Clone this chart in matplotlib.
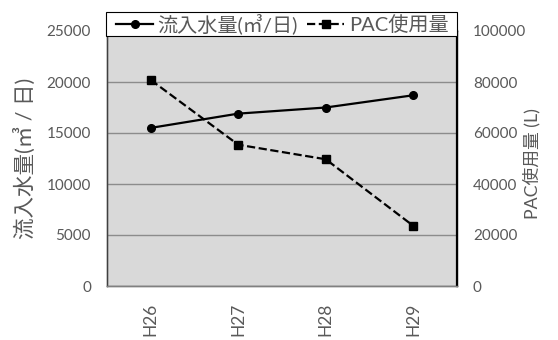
import numpy as np
import matplotlib
matplotlib.use("Agg")
import matplotlib.pyplot as plt
from matplotlib.patches import Rectangle

plt.rcParams["font.family"] = ["Lato", "Noto Sans CJK JP", "DejaVu Sans"]

# -- Data ----------------------------------------------------------------------
years   = ["H26", "H27", "H28", "H29"]
inflow  = [15500, 16900, 17500, 18700]   # m3/day
pac_use = [80800, 55400, 49700, 23600]   # L

TICK_C = "#595959"
W, H = 558, 340

# -- Plot ----------------------------------------------------------------------
fig = plt.figure(figsize=(W / 100, H / 100), dpi=100)
ax = fig.add_axes([107 / W, 1 - 286 / H, 350 / W, 255 / H])
ax2 = ax.twinx()

x = np.arange(len(years))
ax.set_facecolor("#d9d9d9")
ax.set_axisbelow(True)
ax.grid(axis="y", color="#8c8c8c", lw=1.0)

l1, = ax.plot(x, inflow, "-o", color="black", lw=1.6, ms=5.5,
              label="流入水量(㎥/日)")
l2, = ax2.plot(x, pac_use, "--s", color="black", lw=1.6, ms=5.5,
               label="PAC使用量")

ax.set_xlim(-0.5, len(years) - 0.5)
ax.set_ylim(0, 25000)
ax2.set_ylim(0, 100000)
ax.set_yticks(range(0, 25001, 5000))
ax2.set_yticks(range(0, 100001, 20000))
ax.set_xticks(x)
ax.set_xticklabels(years, rotation=90)

for a in (ax, ax2):
    a.tick_params(length=0, labelsize=11, labelcolor=TICK_C)
    for s in a.spines.values():
        s.set_color("#808080")
        s.set_linewidth(1.0)
ax2.spines["left"].set_color("#404040")
ax2.spines["right"].set_color("black")
ax2.spines["right"].set_linewidth(1.6)
ax.tick_params(axis="y", pad=11.5)
ax.tick_params(axis="x", pad=12, labelsize=12.5)
ax2.tick_params(axis="y", pad=11.5)

ax.set_ylabel("流入水量(㎥ / 日)", fontsize=15.5, color=TICK_C)
ax.yaxis.set_label_coords((36 - 107) / 350, 0.5)
ax2.set_ylabel("PAC使用量 (L)", fontsize=12.8, color=TICK_C)
ax2.yaxis.set_label_coords((523 - 107) / 350, 0.48)

# legend box sits across the top edge of the plot area
fig.patches.append(Rectangle((106 / W, 1 - 36 / H), 351 / W, 24 / H,
                             transform=fig.transFigure, facecolor="white",
                             edgecolor="black", lw=0.8, zorder=5))
leg = fig.legend(handles=[l1, l2], loc="center left",
                 bbox_to_anchor=(116 / W, 1 - 24 / H), ncol=2,
                 fontsize=14.5, frameon=False,
                 handlelength=1.85, handletextpad=0.22, columnspacing=0.45,
                 borderpad=0, borderaxespad=0)
leg.set_zorder(6)
for t in leg.get_texts():
    t.set_color(TICK_C)

fig.savefig("out.png", dpi=100)
